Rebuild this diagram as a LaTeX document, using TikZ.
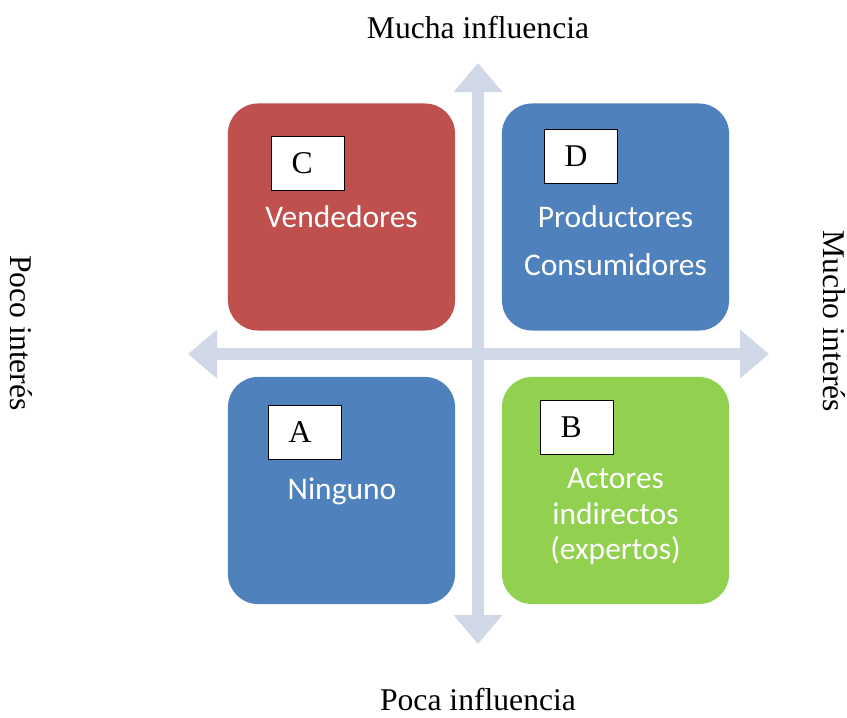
\documentclass[tikz,border=0pt]{standalone}
\usepackage{fontspec}
\setmainfont{Liberation Serif}
\newfontfamily\calibrifont{Carlito}
\usepackage{xcolor}
\usetikzlibrary{arrows.meta, positioning, calc}

\definecolor{axisgray}{RGB}{208,216,232}
\definecolor{quadred}{RGB}{192,80,77}
\definecolor{quadblue}{RGB}{79,129,189}
\definecolor{quadgreen}{RGB}{146,208,80}

\tikzset{
  axis/.style={draw=axisgray, line width=0.3cm,
    {Triangle[width=1.175cm, length=0.725cm]}-{Triangle[width=1.175cm, length=0.725cm]}},
  quad/.style={rounded corners=0.75cm, minimum width=5.675cm, minimum height=5.675cm, inner sep=0pt},
  tag/.style={draw=black, line width=0.7pt, fill=white, anchor=north west,
    minimum width=1.825cm, minimum height=1.35cm, text width=0.825cm, align=left,
    inner xsep=0.5cm, inner ysep=0pt, font=\fontsize{22.5}{26}\selectfont},
  quadtxt/.style={text=white, anchor=base, font=\calibrifont\fontsize{22.4}{26}\selectfont},
  axislbl/.style={anchor=base, inner sep=1pt, font=\fontsize{22.5}{27}\selectfont}
}

\begin{document}
\begin{tikzpicture}[x=0.025cm, y=-0.025cm]
\useasboundingbox (0,0) rectangle (847,717);

% Axis ends
\coordinate (top) at (478,63);
\coordinate (bottom) at (478,644);
\coordinate (left) at (188,354);
\coordinate (right) at (769,354);

% Axes
\draw[axis] (bottom) -- (top);
\draw[axis] (left) -- (right);

% Quadrants
\node[quad, fill=quadred] (qc) at (341.5,217) {};
\node[quad, fill=quadblue] (qd) at (615.5,217) {};
\node[quad, fill=quadblue] (qa) at (341.5,490.5) {};
\node[quad, fill=quadgreen] (qb) at (615.5,490.5) {};

% Letter tags
\node[tag] (tagc) at (271,136) {C};
\node[tag] (tagd) at (544,129) {D};
\node[tag] (taga) at (268,405) {A};
\node[tag] (tagb) at (540,400) {B};

% Quadrant texts
\node[quadtxt] (tc) at (341.5,227) {Vendedores};
\node[quadtxt] (td1) at (615.5,227) {Productores};
\node[quadtxt] (td2) at (615.5,275) {Consumidores};
\node[quadtxt] (ta) at (342,499) {Ninguno};
\node[quadtxt] (tb1) at (615.5,488) {Actores};
\node[quadtxt] (tb2) at (615.5,524) {indirectos};
\node[quadtxt] (tb3) at (615.5,559) {(expertos)};

% Axis labels
\node[axislbl] (much) at (478,38) {Mucha influencia};
\node[axislbl] (poca) at (478,710) {Poca influencia};
\node[axislbl, rotate=-90] (poco) at (10,333) {Poco interés};
\node[axislbl, rotate=-90] (mucho) at (823,321) {Mucho interés};
\end{tikzpicture}
\end{document}
